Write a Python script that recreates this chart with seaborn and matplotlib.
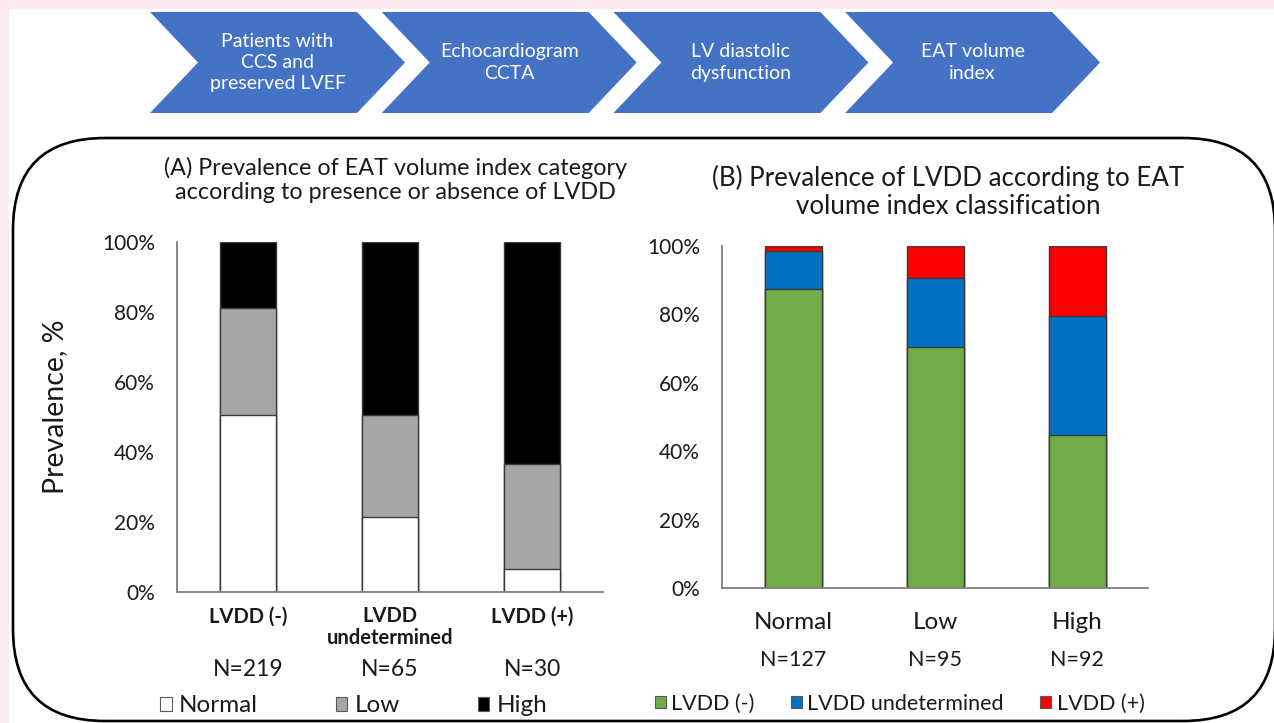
import numpy as np
import pandas as pd
import matplotlib
matplotlib.use("Agg")
import matplotlib.pyplot as plt
import seaborn as sns
from matplotlib.patches import Polygon, FancyBboxPatch, Rectangle, Patch

# ---- data -----------------------------------------------------------------
lvdd_groups = ["LVDD (-)", "LVDD\nundetermined", "LVDD (+)"]
lvdd_n = [219, 65, 30]
eat_normal = [50.7, 21.5, 6.7]
eat_low = [30.6, 29.2, 30.0]
eat_high = [18.7, 49.3, 63.3]

eat_groups = ["Normal", "Low", "High"]
eat_n = [127, 95, 92]
lvdd_neg = [87.4, 70.5, 44.6]
lvdd_undet = [11.0, 20.0, 34.8]
lvdd_pos = [1.6, 9.5, 20.6]

steps = ["Patients with\nCCS and\npreserved LVEF", "Echocardiogram\nCCTA",
         "LV diastolic\ndysfunction", "EAT volume\nindex"]
yticks = [0, 20, 40, 60, 80, 100]

# ---- style ----------------------------------------------------------------
sns.set_theme(style="white")
plt.rcParams["font.family"] = ["Lato", "DejaVu Sans"]
TXT = "#1a1a1a"
AXC = "#7f7f7f"

W, H = 1274, 723
fig = plt.figure(figsize=(W / 100, H / 100), dpi=100)
fig.patch.set_facecolor("#fbeaf2")

# pixel-space canvas for the frame, flow chart and free text
bg = fig.add_axes([0, 0, 1, 1], zorder=0)
bg.set_xlim(0, W)
bg.set_ylim(H, 0)
bg.axis("off")
bg.add_patch(Rectangle((9, 9), W, H, facecolor="white", edgecolor="none"))
bg.add_patch(FancyBboxPatch((13, 138), 1262, 583,
                            boxstyle="round,pad=0,rounding_size=92",
                            facecolor="none", edgecolor="black", linewidth=1.9))

# flow chart chevrons
x0, pitch, body, depth, top, bot = 150, 231.7, 207, 48, 12, 113
mid = (top + bot) / 2
for i, label in enumerate(steps):
    xl = x0 + i * pitch
    pts = [(xl, top), (xl + body, top), (xl + body + depth, mid),
           (xl + body, bot), (xl, bot), (xl + depth, mid)]
    bg.add_patch(Polygon(pts, closed=True, facecolor="#4472c4", edgecolor="none"))
    bg.text(xl + (body + depth) / 2, mid, label, color="white", fontsize=14,
            ha="center", va="center", linespacing=1.3)

# panel titles
bg.text(395, 180, "(A) Prevalence of EAT volume index category\naccording to presence or absence of LVDD",
        ha="center", va="center", fontsize=16.8, color=TXT, linespacing=1.2)
bg.text(948, 192, "(B) Prevalence of LVDD according to EAT\nvolume index classification",
        ha="center", va="center", fontsize=18.6, color=TXT, linespacing=1.12)
bg.text(55, 407, "Prevalence, %", rotation=90, ha="center", va="center",
        fontsize=20.5, color=TXT)


def stacked(ax, cats, layers, colors):
    cum = np.cumsum(np.array(layers), axis=0)
    for k in range(len(layers) - 1, -1, -1):
        df = pd.DataFrame({"cat": cats, "val": cum[k]})
        sns.barplot(data=df, x="cat", y="val", order=cats, color=colors[k],
                    saturation=1, width=0.4, edgecolor="#3a3a3a", linewidth=1.0,
                    ax=ax)
    ax.set_xlabel("")
    ax.set_ylabel("")
    ax.set_xlim(-0.5, 2.5)
    ax.set_ylim(0, 100)
    ax.set_yticks(yticks)
    ax.set_yticklabels([f"{v}%" for v in yticks])
    for s in ("top", "right"):
        ax.spines[s].set_visible(False)
    for s in ("left", "bottom"):
        ax.spines[s].set_color(AXC)
        ax.spines[s].set_linewidth(1.3)
    ax.tick_params(length=0)
    ax.set_facecolor("none")


# ---- panel A --------------------------------------------------------------
axA = fig.add_axes([177 / W, 1 - 592.3 / H, 426 / W, 350 / H], zorder=2)
colsA = ["white", "#a6a6a6", "black"]
stacked(axA, lvdd_groups, [eat_normal, eat_low, eat_high], colsA)
axA.tick_params(axis="y", labelsize=15, labelcolor=TXT, pad=16)
axA.tick_params(axis="x", labelsize=14.5, labelcolor=TXT, pad=10)
for t in axA.get_xticklabels():
    t.set_fontweight("bold")
    t.set_linespacing(1.1)
for i, n in enumerate(lvdd_n):
    axA.text(i, -0.222, f"N={n}", transform=axA.get_xaxis_transform(),
             ha="center", va="center", fontsize=16.5, color=TXT)
hA = [Patch(facecolor=c, edgecolor="#595959", linewidth=0.8) for c in colsA]
legA = bg.legend(hA, ["Normal", "Low", "High"], loc="center left",
                 bbox_to_anchor=(160, 706), bbox_transform=bg.transData,
                 ncol=3, frameon=False, fontsize=17.5, handlelength=0.48,
                 handleheight=0.48, handletextpad=0.3, columnspacing=3.2,
                 borderpad=0, borderaxespad=0)
for t in legA.get_texts():
    t.set_color(TXT)
bg.add_artist(legA)

# ---- panel B --------------------------------------------------------------
axB = fig.add_axes([722.3 / W, 1 - 588.3 / H, 426 / W, 342.7 / H], zorder=2)
colsB = ["#70ad47", "#0070c0", "#ff0000"]
stacked(axB, eat_groups, [lvdd_neg, lvdd_undet, lvdd_pos], colsB)
axB.tick_params(axis="y", labelsize=15, labelcolor=TXT, pad=16)
axB.tick_params(axis="x", labelsize=17.5, labelcolor=TXT, pad=17)
for i, n in enumerate(eat_n):
    axB.text(i, -0.21, f"N={n}", transform=axB.get_xaxis_transform(),
             ha="center", va="center", fontsize=15.5, color=TXT)
hB = [Patch(facecolor=c, edgecolor="#595959", linewidth=0.8) for c in colsB]
legB = bg.legend(hB, ["LVDD (-)", "LVDD undetermined", "LVDD (+)"],
                 loc="center left", bbox_to_anchor=(655, 704),
                 bbox_transform=bg.transData, ncol=3, frameon=False,
                 fontsize=15.5, handlelength=0.5, handleheight=0.5,
                 handletextpad=0.25, columnspacing=1.7, borderpad=0,
                 borderaxespad=0)
for t in legB.get_texts():
    t.set_color(TXT)

fig.savefig("out.png", dpi=100, facecolor=fig.get_facecolor())
